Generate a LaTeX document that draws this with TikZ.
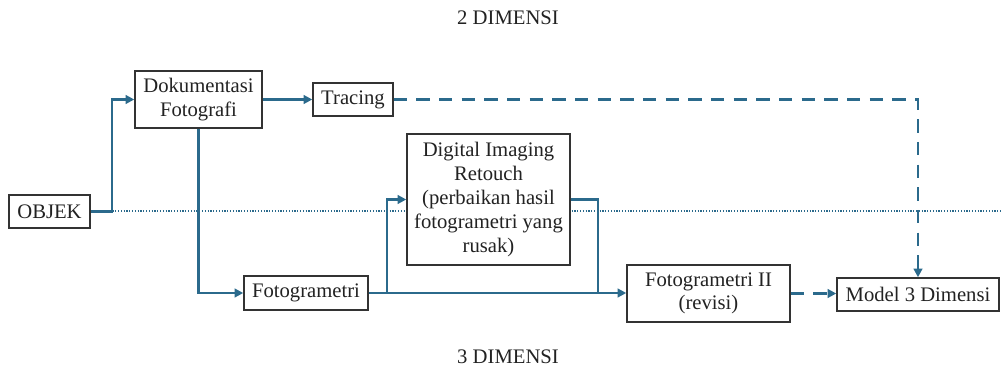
\documentclass[tikz,border=0pt]{standalone}
\usepackage{fontspec}
\setmainfont{Liberation Serif}
\usetikzlibrary{arrows.meta}
\definecolor{flow}{HTML}{2B6A8C}
\definecolor{boxgray}{HTML}{333333}
\definecolor{txt}{HTML}{222222}
\begin{document}
\begin{tikzpicture}[x=0.75pt,y=-0.75pt,
  box/.style={draw=boxgray,line width=1.1pt,fill=white,align=center,inner sep=0pt,text=txt,
    font=\fontsize{15.5}{17.5}\selectfont},
  conn/.style={draw=flow,line width=2.2pt,-{Triangle[length=6.5pt,width=6.5pt]}},
  seg/.style={draw=flow,line width=2.2pt},
  dconn/.style={conn,dash pattern=on 10pt off 7pt},
  guide/.style={draw=flow,line width=0.9pt,dash pattern=on 0.9pt off 1.2pt},
  lbl/.style={text=txt,font=\fontsize{15.5}{17.5}\selectfont}]
\useasboundingbox (0,0) rectangle (1001,370);
\draw[guide] (90,211) -- (1001,211);
\node[box,minimum width=60.75pt,minimum height=24.75pt] (objek) at (49.5,211.5) {OBJEK};
\node[box,minimum width=95.25pt,minimum height=42.75pt] (dok) at (198.5,99.5) {Dokumentasi\\Fotografi};
\node[box,minimum width=60pt,minimum height=24.75pt] (tracing) at (353,99.5) {Tracing};
\node[box,minimum width=122.25pt,minimum height=98.25pt,font=\fontsize{15.5}{18}\selectfont] (dig) at (488.5,199.5) {Digital Imaging\\Retouch\\(perbaikan hasil\\fotogrametri yang\\rusak)};
\node[box,minimum width=93pt,minimum height=25.5pt] (foto) at (306,293) {Fotogrametri};
\node[box,minimum width=122.25pt,minimum height=42.75pt] (fii) at (708.5,293.5) {Fotogrametri II\\(revisi)};
\node[box,minimum width=121.5pt,minimum height=24.75pt] (model) at (918,294.5) {Model 3 Dimensi};
\node[lbl] (d2) at (508,18) {2 DIMENSI};
\node[lbl] (d3) at (508,357) {3 DIMENSI};
\coordinate (j1) at (112,211.5);
\coordinate (j2) at (387,293);
\coordinate (j3) at (598,293);
\draw[conn] (objek.east) -- (j1) |- (dok.west);
\draw[conn] (dok.east) -- (tracing.west);
\draw[dconn] (tracing.east) -| (model.north);
\draw[conn] (dok.south) |- (foto.west);
\draw[conn] (foto.east) -- (fii.west |- foto.east);
\draw[conn] (j2) |- (dig.west);
\draw[seg] (dig.east) -| (j3);
\draw[dconn] (fii.east) -- (model.west |- fii.east);
\end{tikzpicture}
\end{document}
